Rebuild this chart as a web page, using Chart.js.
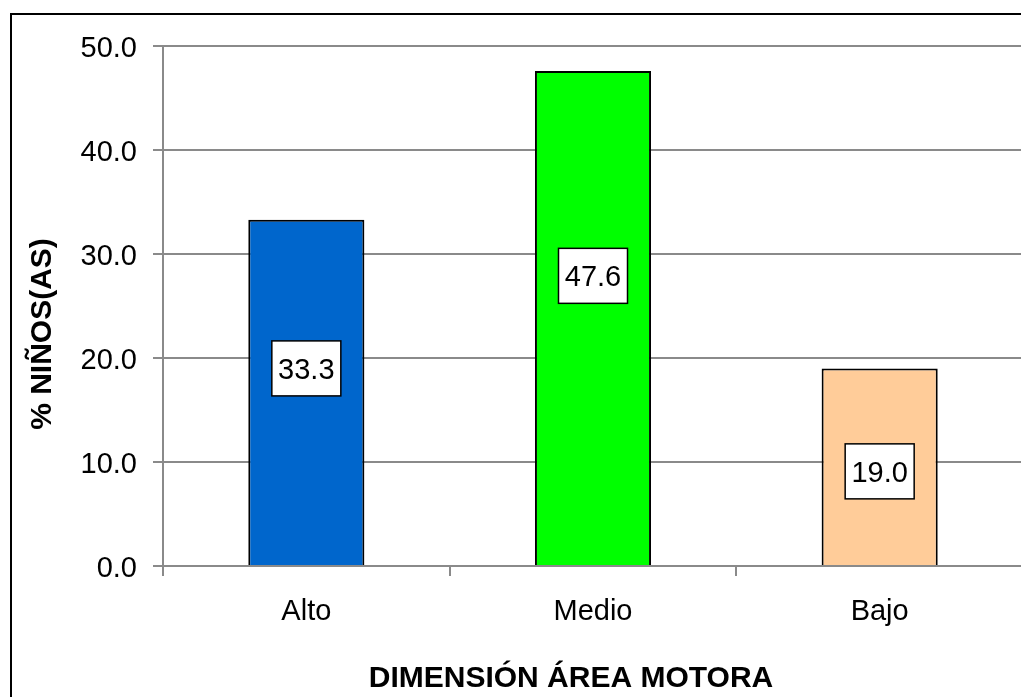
<!DOCTYPE html>
<html lang="es">
<head>
<meta charset="utf-8">
<title>Dimensión área motora</title>
<script src="https://cdn.jsdelivr.net/npm/chart.js@4/dist/chart.umd.min.js"></script>
<style>
  html, body { margin: 0; padding: 0; background: #fff; overflow: hidden; width: 1021px; height: 697px; }
  #frame { position: absolute; left: 10px; top: 13px; width: 1200px; height: 900px;
           border-top: 2px solid #000; border-left: 2px solid #000; pointer-events: none; z-index: 2; }
  #chart { position: absolute; left: 0; top: 0; z-index: 1; }
</style>
</head>
<body>
<div id="frame"></div>
<canvas id="chart" width="1040" height="697"></canvas>
<script>
// Distribución de niños(as) por nivel en la dimensión área motora (%)
const categories = ['Alto', 'Medio', 'Bajo'];
const percentages = [33.3, 47.6, 19.0];
const barColors = ['#0066CC', '#00FF00', '#FFCC99'];
const yTicks = [0, 10, 20, 30, 40, 50];
const xTitle = 'DIMENSIÓN ÁREA MOTORA';
const yTitle = '% NIÑOS(AS)';

const FONT = '"Liberation Sans", Arial, sans-serif';
const GRID = '#8a8a8a';

// Value labels in white boxes over each bar
const boxLabels = {
  id: 'boxLabels',
  afterDatasetsDraw(chart, args, opts) {
    const { ctx } = chart;
    const yScale = chart.scales.y;
    const meta = chart.getDatasetMeta(0);
    ctx.save();
    meta.data.forEach((bar, i) => {
      const cx = bar.x;
      const cy = yScale.getPixelForValue(opts.anchors[i]);
      const w = 69, h = 55;
      ctx.fillStyle = '#fff';
      ctx.fillRect(cx - w / 2, cy - h / 2, w, h);
      ctx.lineWidth = 1.5;
      ctx.strokeStyle = '#000';
      ctx.strokeRect(cx - w / 2, cy - h / 2, w, h);
      ctx.fillStyle = '#000';
      ctx.font = '29px ' + FONT;
      ctx.textAlign = 'center';
      ctx.textBaseline = 'alphabetic';
      ctx.fillText(percentages[i].toFixed(1), cx, cy + 10.5);
    });
    ctx.restore();
  }
};

// Axis titles
const axisTitles = {
  id: 'axisTitles',
  afterDraw(chart) {
    const { ctx } = chart;
    ctx.save();
    ctx.fillStyle = '#000';
    ctx.font = 'bold 30px ' + FONT;
    ctx.textAlign = 'center';
    ctx.textBaseline = 'alphabetic';
    ctx.fillText(xTitle, 571, 687);
    ctx.translate(51, 334);
    ctx.rotate(-Math.PI / 2);
    ctx.fillText(yTitle, 0, 0);
    ctx.restore();
  }
};

new Chart(document.getElementById('chart'), {
  type: 'bar',
  data: {
    labels: categories,
    datasets: [{
      data: percentages,
      backgroundColor: barColors,
      borderColor: '#000',
      borderWidth: 2,
      borderSkipped: 'start',
      barPercentage: 0.405,
      categoryPercentage: 1.0
    }]
  },
  options: {
    responsive: false,
    animation: false,
    devicePixelRatio: 1,
    layout: { padding: { left: 0, top: 46, right: 17, bottom: 0 } },
    plugins: {
      legend: { display: false },
      tooltip: { enabled: false },
      title: { display: false },
      boxLabels: { anchors: [19.0, 27.9, 9.1] }
    },
    scales: {
      x: {
        grid: { offset: true, drawOnChartArea: false, drawTicks: true, tickLength: 10, color: GRID, lineWidth: 2 },
        border: { display: true, color: GRID, width: 2 },
        ticks: { color: '#000', font: { family: FONT, size: 29 }, padding: 19, maxRotation: 0 },
        afterFit(scale) { scale.height = 131; }
      },
      y: {
        min: 0,
        max: 50,
        afterBuildTicks(scale) { scale.ticks = yTicks.map(v => ({ value: v })); },
        grid: { color: GRID, lineWidth: 2, drawTicks: true, tickLength: 10 },
        border: { display: true, color: GRID, width: 2 },
        ticks: {
          color: '#000',
          font: { family: FONT, size: 29 },
          padding: 16,
          labelOffset: 3,
          callback: v => Number(v).toFixed(1)
        },
        afterFit(scale) { scale.width = 163; }
      }
    }
  },
  plugins: [boxLabels, axisTitles]
});
</script>
</body>
</html>
